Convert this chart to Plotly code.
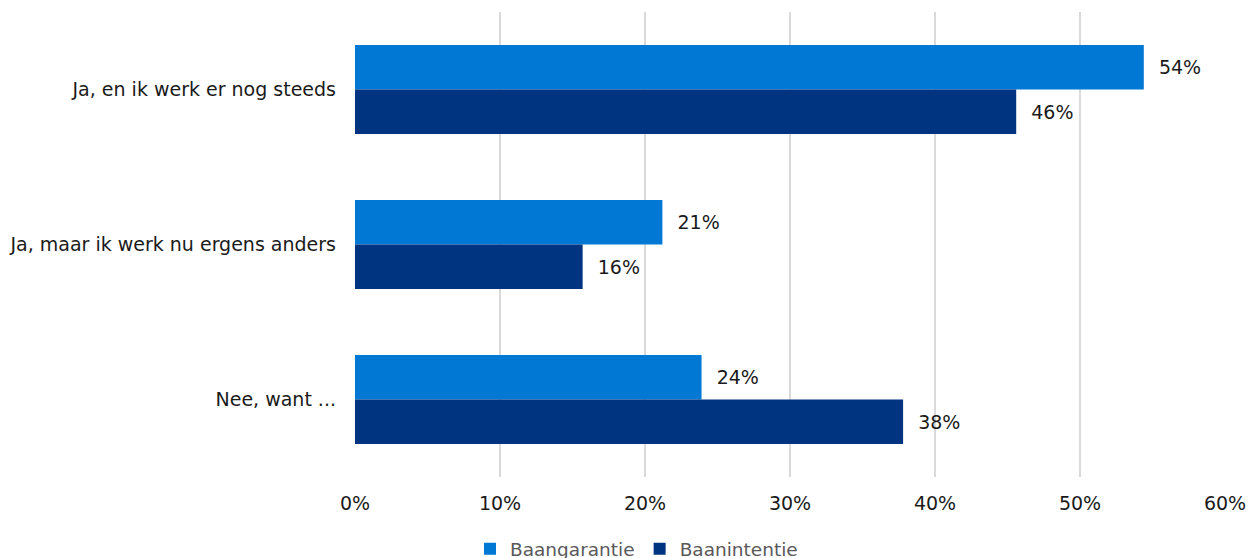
import plotly.graph_objects as go

# Categorieën en waarden (in procenten)
categorieen = ["Ja, en ik werk er nog steeds", "Ja, maar ik werk nu ergens anders", "Nee, want ..."]
baangarantie = [54.4, 21.2, 23.9]
baanintentie = [45.6, 15.7, 37.8]
x_ticks = [0, 10, 20, 30, 40, 50, 60]
x_tick_labels = ["0%", "10%", "20%", "30%", "40%", "50%", "60%"]

lettertype = "DejaVu Sans, Verdana, sans-serif"
tekstkleur = "#1a1a1a"

fig = go.Figure()

fig.add_trace(go.Bar(
    name="Baangarantie",
    y=categorieen,
    x=baangarantie,
    orientation="h",
    marker=dict(color="#0078D4", line=dict(width=0)),
    texttemplate="  %{x:.0f}%",
    textposition="outside",
    textfont=dict(size=19, color=tekstkleur),
    cliponaxis=False,
))

fig.add_trace(go.Bar(
    name="Baanintentie",
    y=categorieen,
    x=baanintentie,
    orientation="h",
    marker=dict(color="#003380", line=dict(width=0)),
    texttemplate="  %{x:.0f}%",
    textposition="outside",
    textfont=dict(size=19, color=tekstkleur),
    cliponaxis=False,
))

# de pagina heeft 8px body-marge, daarom zijn de marges verschoven
fig.update_layout(
    width=1257,
    height=558,
    barmode="group",
    bargap=0.425,
    bargroupgap=0,
    plot_bgcolor="white",
    paper_bgcolor="white",
    font=dict(family=lettertype, size=19, color=tekstkleur),
    margin=dict(l=347, r=40, t=4, b=89, autoexpand=False),
    xaxis=dict(
        range=[0, 60],
        tickvals=x_ticks,
        ticktext=x_tick_labels,
        showgrid=True,
        gridcolor="#d9d9d9",
        gridwidth=2,
        zeroline=False,
        showline=False,
        ticklabelstandoff=13,
        tickfont=dict(size=19, color=tekstkleur),
    ),
    yaxis=dict(
        autorange="reversed",
        showgrid=False,
        showline=False,
        ticklabelstandoff=18,
        tickfont=dict(size=19, color=tekstkleur),
    ),
    legend=dict(
        orientation="h",
        xref="container",
        yref="container",
        x=0.5,
        xanchor="center",
        y=0.03,
        yanchor="middle",
        font=dict(size=18.5, color="#595959"),
        itemwidth=30,
        traceorder="normal",
    ),
)

fig.write_html("out.html")
